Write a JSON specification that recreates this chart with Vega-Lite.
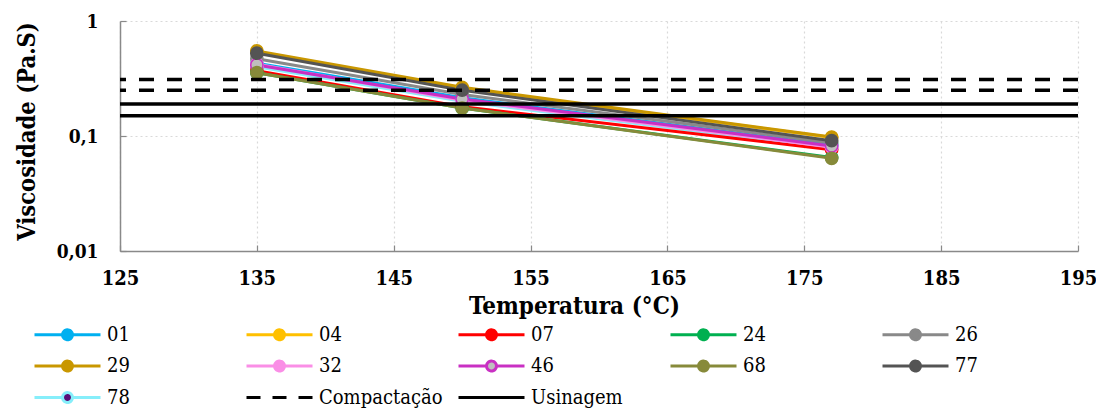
{
  "$schema": "https://vega.github.io/schema/vega-lite/v6.json",
  "width": 958,
  "height": 230,
  "autosize": "none",
  "padding": {"left": 120, "top": 21, "right": 18, "bottom": 159},
  "background": "white",
  "config": {"view": {"stroke": null}, "font": "DejaVu Serif Condensed, DejaVu Serif"},
  "datasets": {
    "series": [
      {"serie": "78", "temp": 135, "visc": 0.40},
      {"serie": "78", "temp": 150, "visc": 0.20},
      {"serie": "78", "temp": 177, "visc": 0.078},
      {"serie": "01", "temp": 135, "visc": 0.43},
      {"serie": "01", "temp": 150, "visc": 0.215},
      {"serie": "01", "temp": 177, "visc": 0.083},
      {"serie": "04", "temp": 135, "visc": 0.54},
      {"serie": "04", "temp": 150, "visc": 0.26},
      {"serie": "04", "temp": 177, "visc": 0.097},
      {"serie": "07", "temp": 135, "visc": 0.37},
      {"serie": "07", "temp": 150, "visc": 0.18},
      {"serie": "07", "temp": 177, "visc": 0.076},
      {"serie": "24", "temp": 135, "visc": 0.355},
      {"serie": "24", "temp": 150, "visc": 0.175},
      {"serie": "24", "temp": 177, "visc": 0.065},
      {"serie": "26", "temp": 135, "visc": 0.47},
      {"serie": "26", "temp": 150, "visc": 0.23},
      {"serie": "26", "temp": 177, "visc": 0.087},
      {"serie": "29", "temp": 135, "visc": 0.55},
      {"serie": "29", "temp": 150, "visc": 0.265},
      {"serie": "29", "temp": 177, "visc": 0.098},
      {"serie": "32", "temp": 135, "visc": 0.42},
      {"serie": "32", "temp": 150, "visc": 0.205},
      {"serie": "32", "temp": 177, "visc": 0.080},
      {"serie": "46", "temp": 135, "visc": 0.415},
      {"serie": "46", "temp": 150, "visc": 0.21},
      {"serie": "46", "temp": 177, "visc": 0.082},
      {"serie": "68", "temp": 135, "visc": 0.355},
      {"serie": "68", "temp": 150, "visc": 0.175},
      {"serie": "68", "temp": 177, "visc": 0.064},
      {"serie": "77", "temp": 135, "visc": 0.525},
      {"serie": "77", "temp": 150, "visc": 0.25},
      {"serie": "77", "temp": 177, "visc": 0.091}
    ],
    "refs": [
      {"tipo": "Compactação", "visc": 0.31},
      {"tipo": "Compactação", "visc": 0.25},
      {"tipo": "Usinagem", "visc": 0.19},
      {"tipo": "Usinagem", "visc": 0.15}
    ]
  },
  "layer": [
    {
      "data": {"name": "series"},
      "mark": {"type": "line", "strokeWidth": 3},
      "encoding": {
        "x": {
          "field": "temp", "type": "quantitative",
          "scale": {"domain": [125, 195], "nice": false, "zero": false},
          "axis": {
            "values": [125, 135, 145, 155, 165, 175, 185, 195],
            "title": "Temperatura (°C)",
            "titleFont": "DejaVu Serif Condensed, DejaVu Serif", "titleFontSize": 24, "titleFontWeight": "bold", "titleColor": "#000",
            "titleX": 454, "titleY": 62, "titleBaseline": "alphabetic",
            "labelFont": "DejaVu Serif Condensed, DejaVu Serif", "labelFontSize": 20, "labelFontWeight": "bold", "labelColor": "#000",
            "labelPadding": 23, "labelFlush": false, "labelOverlap": false,
            "grid": true, "gridColor": "#D9D9D9", "gridDash": [2, 3], "gridWidth": 1.2,
            "domainColor": "#898989", "domainWidth": 1.5,
            "tickColor": "#898989", "tickSize": -6, "tickWidth": 1.2
          }
        },
        "y": {
          "field": "visc", "type": "quantitative",
          "scale": {"type": "log", "domain": [0.01, 1], "nice": false},
          "axis": {
            "values": [0.01, 0.1, 1],
            "labelExpr": "datum.value == 1 ? '1' : (datum.value > 0.05 ? '0,1' : '0,01')",
            "title": "Viscosidade (Pa.S)",
            "titleFont": "DejaVu Serif Condensed, DejaVu Serif", "titleFontSize": 23.5, "titleFontWeight": "bold", "titleColor": "#000",
            "titleX": -93, "titleY": 110, "titleBaseline": "middle", "titleAngle": -90,
            "labelFont": "DejaVu Serif Condensed, DejaVu Serif", "labelFontSize": 19, "labelFontWeight": "bold", "labelColor": "#000",
            "labelPadding": 28, "labelFlush": false, "labelOverlap": false,
            "grid": true, "gridColor": "#D9D9D9", "gridDash": [2, 3], "gridWidth": 1.2,
            "domainColor": "#898989", "domainWidth": 1.5,
            "tickColor": "#898989", "tickSize": -6, "tickWidth": 1.2
          }
        },
        "stroke": {
          "field": "serie", "type": "nominal",
          "scale": {
            "domain": ["01", "04", "07", "24", "26", "29", "32", "46", "68", "77", "78", "Compactação", "Usinagem"],
            "range": ["#00B0F0", "#FFC000", "#FF0000", "#00B050", "#898989", "#C99700", "#FA8EE6", "#C930C3", "#878A3A", "#545454", "#86EEFA", "#000000", "#000000"]
          },
          "legend": {
            "orient": "none", "legendX": -65, "legendY": 301,
            "direction": "horizontal", "columns": 5, "title": null,
            "labelFont": "DejaVu Serif Condensed, DejaVu Serif", "labelFontSize": 20, "labelColor": "#000", "labelLimit": 300,
            "labelBaseline": "middle",
            "symbolSize": 484, "symbolStrokeWidth": 3, "labelOffset": 27,
            "columnPadding": 9, "rowPadding": 7.5, "gridAlign": "all", "padding": 0,
            "encode": {
              "symbols": {
                "update": {
                  "shape": {"signal": "(datum.value === 'Compactação' || datum.value === 'Usinagem') ? 'M-3,0H3' : 'M-3,0H-0.45M0.45,0H3M-0.45,0A0.45,0.45,0,1,0,0.45,0A0.45,0.45,0,1,0,-0.45,0'"},
                  "fill": {"scale": "fill", "field": "value"},
                  "stroke": {"scale": "stroke", "field": "value"},
                  "strokeDash": {"signal": "datum.value === 'Compactação' ? [14, 12] : [1, 0]"},
                  "strokeWidth": {"value": 3},
                  "size": {"value": 484},
                  "opacity": {"value": 1}
                }
              }
            }
          }
        }
      }
    },
    {
      "data": {"name": "series"},
      "mark": {"type": "point", "shape": "circle", "filled": true, "size": 150, "strokeWidth": 1.5, "opacity": 1},
      "encoding": {
        "x": {"field": "temp", "type": "quantitative"},
        "y": {"field": "visc", "type": "quantitative"},
        "fill": {
          "field": "serie", "type": "nominal",
          "scale": {
            "domain": ["01", "04", "07", "24", "26", "29", "32", "46", "68", "77", "78", "Compactação", "Usinagem"],
            "range": ["#00B0F0", "#FFC000", "#FF0000", "#00B050", "#898989", "#C99700", "#FA8EE6", "#BFBFBF", "#878A3A", "#545454", "#5A0E78", "transparent", "transparent"]
          },
          "legend": null
        },
        "stroke": {"field": "serie", "type": "nominal", "legend": null}
      }
    },
    {
      "data": {"name": "refs"},
      "transform": [{"filter": "datum.tipo === 'Compactação'"}],
      "mark": {"type": "rule", "strokeWidth": 3.5, "strokeDash": [15, 13]},
      "encoding": {
        "y": {"field": "visc", "type": "quantitative"},
        "stroke": {"field": "tipo", "type": "nominal", "legend": null}
      }
    },
    {
      "data": {"name": "refs"},
      "transform": [{"filter": "datum.tipo === 'Usinagem'"}],
      "mark": {"type": "rule", "strokeWidth": 3.5},
      "encoding": {
        "y": {"field": "visc", "type": "quantitative"},
        "stroke": {"field": "tipo", "type": "nominal", "legend": null}
      }
    }
  ]
}
